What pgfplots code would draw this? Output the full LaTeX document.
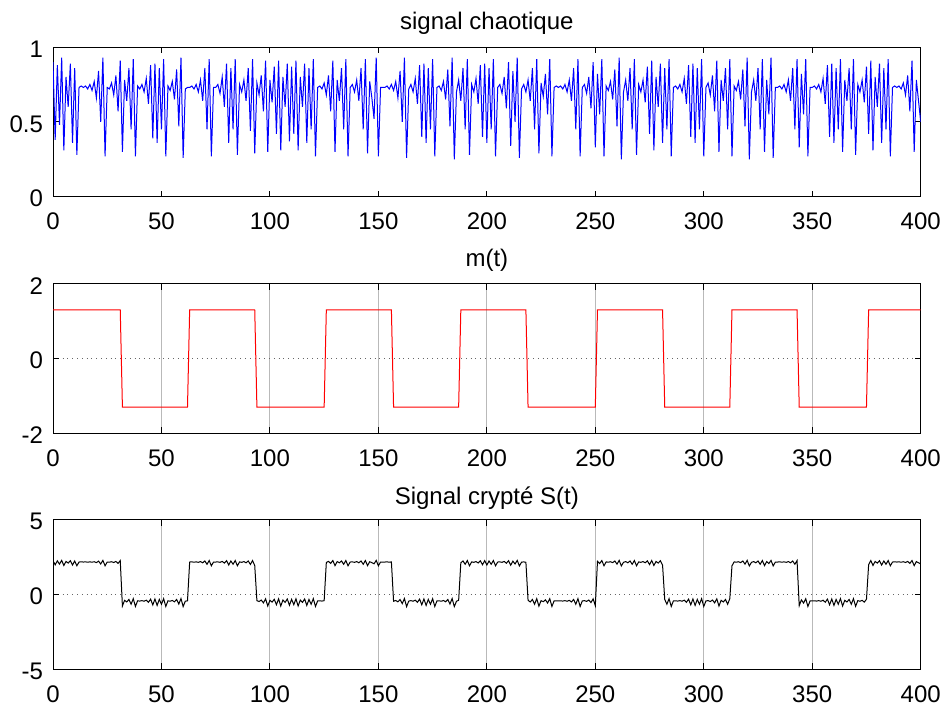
\documentclass[border=0pt]{standalone}
\usepackage{fontspec}
\setmainfont{Liberation Sans}
\usepackage{pgfplots}
\usepackage{pgfplotstable}
\pgfplotsset{compat=1.18}

% t : time, c : signal chaotique, s : signal crypte S(t)
\pgfplotstableread[row sep=\\]{
t c s\\
0 0.90 2.26\\ 1 0.38 1.98\\ 2 0.88 2.25\\ 3 0.48 2.03\\ 4 0.93 2.28\\ 5 0.31 1.94\\ 6 0.80 2.21\\ 7 0.60 2.10\\ 8 0.89 2.26\\ 9 0.36 1.97\\
10 0.86 2.24\\ 11 0.28 1.92\\ 12 0.73 2.17\\ 13 0.74 2.18\\ 14 0.73 2.17\\ 15 0.74 2.18\\ 16 0.72 2.16\\ 17 0.75 2.18\\ 18 0.71 2.16\\ 19 0.77 2.19\\
20 0.66 2.13\\ 21 0.84 2.23\\ 22 0.50 2.04\\ 23 0.93 2.28\\ 24 0.27 1.92\\ 25 0.73 2.17\\ 26 0.72 2.16\\ 27 0.76 2.19\\ 28 0.68 2.14\\ 29 0.81 2.21\\
30 0.57 2.08\\ 31 0.91 2.27\\ 32 0.30 -0.77\\ 33 0.78 -0.39\\ 34 0.64 -0.50\\ 35 0.86 -0.33\\ 36 0.45 -0.65\\ 37 0.92 -0.28\\ 38 0.27 -0.80\\ 39 0.74 -0.42\\
40 0.72 -0.44\\ 41 0.75 -0.41\\ 42 0.70 -0.45\\ 43 0.79 -0.38\\ 44 0.62 -0.52\\ 45 0.88 -0.31\\ 46 0.39 -0.70\\ 47 0.89 -0.30\\ 48 0.36 -0.73\\ 49 0.86 -0.33\\
50 0.45 -0.65\\ 51 0.92 -0.28\\ 52 0.27 -0.80\\ 53 0.74 -0.42\\ 54 0.71 -0.45\\ 55 0.77 -0.40\\ 56 0.65 -0.49\\ 57 0.85 -0.33\\ 58 0.47 -0.64\\ 59 0.93 -0.27\\
60 0.26 -0.81\\ 61 0.72 -0.44\\ 62 0.73 -0.43\\ 63 0.73 2.17\\ 64 0.74 2.18\\ 65 0.72 2.16\\ 66 0.75 2.18\\ 67 0.70 2.15\\ 68 0.78 2.20\\ 69 0.64 2.12\\
70 0.86 2.24\\ 71 0.45 2.02\\ 72 0.92 2.27\\ 73 0.27 1.92\\ 74 0.73 2.17\\ 75 0.73 2.17\\ 76 0.75 2.18\\ 77 0.69 2.15\\ 78 0.80 2.21\\ 79 0.60 2.10\\
80 0.89 2.26\\ 81 0.36 1.97\\ 82 0.86 2.24\\ 83 0.45 2.02\\ 84 0.92 2.27\\ 85 0.28 1.92\\ 86 0.75 2.18\\ 87 0.70 2.15\\ 88 0.78 2.20\\ 89 0.64 2.12\\
90 0.86 2.24\\ 91 0.44 2.01\\ 92 0.92 2.27\\ 93 0.29 1.93\\ 94 0.76 -0.41\\ 95 0.68 -0.47\\ 96 0.81 -0.37\\ 97 0.57 -0.56\\ 98 0.91 -0.29\\ 99 0.30 -0.77\\
100 0.78 -0.39\\ 101 0.63 -0.51\\ 102 0.87 -0.32\\ 103 0.42 -0.68\\ 104 0.91 -0.29\\ 105 0.31 -0.77\\ 106 0.80 -0.37\\ 107 0.60 -0.53\\ 108 0.89 -0.30\\ 109 0.37 -0.72\\
110 0.87 -0.32\\ 111 0.42 -0.68\\ 112 0.91 -0.29\\ 113 0.31 -0.77\\ 114 0.80 -0.37\\ 115 0.60 -0.53\\ 116 0.89 -0.30\\ 117 0.36 -0.73\\ 118 0.86 -0.33\\ 119 0.45 -0.65\\
120 0.92 -0.28\\ 121 0.27 -0.80\\ 122 0.73 -0.43\\ 123 0.74 -0.42\\ 124 0.72 -0.44\\ 125 0.76 -0.41\\ 126 0.68 2.14\\ 127 0.81 2.21\\ 128 0.57 2.08\\ 129 0.91 2.27\\
130 0.30 1.93\\ 131 0.78 2.20\\ 132 0.64 2.12\\ 133 0.86 2.24\\ 134 0.45 2.02\\ 135 0.92 2.27\\ 136 0.27 1.92\\ 137 0.73 2.17\\ 138 0.75 2.18\\ 139 0.70 2.15\\
140 0.78 2.20\\ 141 0.64 2.12\\ 142 0.86 2.24\\ 143 0.45 2.02\\ 144 0.92 2.27\\ 145 0.29 1.93\\ 146 0.77 2.19\\ 147 0.66 2.13\\ 148 0.52 2.05\\ 149 0.93 2.28\\
150 0.27 1.92\\ 151 0.73 2.17\\ 152 0.73 2.17\\ 153 0.73 2.17\\ 154 0.74 2.18\\ 155 0.72 2.16\\ 156 0.75 2.18\\ 157 0.71 -0.45\\ 158 0.77 -0.40\\ 159 0.66 -0.49\\
160 0.84 -0.34\\ 161 0.50 -0.61\\ 162 0.93 -0.27\\ 163 0.26 -0.81\\ 164 0.72 -0.44\\ 165 0.75 -0.41\\ 166 0.70 -0.45\\ 167 0.79 -0.38\\ 168 0.62 -0.52\\ 169 0.88 -0.31\\
170 0.40 -0.69\\ 171 0.89 -0.30\\ 172 0.36 -0.73\\ 173 0.86 -0.33\\ 174 0.45 -0.65\\ 175 0.92 -0.28\\ 176 0.27 -0.80\\ 177 0.73 -0.43\\ 178 0.74 -0.42\\ 179 0.71 -0.45\\
180 0.77 -0.40\\ 181 0.65 -0.49\\ 182 0.85 -0.33\\ 183 0.47 -0.64\\ 184 0.93 -0.27\\ 185 0.25 -0.81\\ 186 0.70 -0.45\\ 187 0.78 -0.39\\ 188 0.64 2.12\\ 189 0.86 2.24\\
190 0.45 2.02\\ 191 0.92 2.27\\ 192 0.28 1.92\\ 193 0.75 2.18\\ 194 0.70 2.15\\ 195 0.79 2.20\\ 196 0.62 2.11\\ 197 0.88 2.25\\ 198 0.40 1.99\\ 199 0.89 2.26\\
200 0.36 1.97\\ 201 0.86 2.24\\ 202 0.45 2.02\\ 203 0.92 2.27\\ 204 0.27 1.92\\ 205 0.73 2.17\\ 206 0.75 2.18\\ 207 0.69 2.15\\ 208 0.80 2.21\\ 209 0.59 2.09\\
210 0.90 2.26\\ 211 0.34 1.96\\ 212 0.84 2.23\\ 213 0.50 2.04\\ 214 0.93 2.28\\ 215 0.26 1.91\\ 216 0.72 2.16\\ 217 0.75 2.18\\ 218 0.70 2.15\\ 219 0.78 -0.39\\
220 0.64 -0.50\\ 221 0.86 -0.33\\ 222 0.45 -0.65\\ 223 0.92 -0.28\\ 224 0.29 -0.78\\ 225 0.76 -0.41\\ 226 0.67 -0.48\\ 227 0.82 -0.36\\ 228 0.55 -0.57\\ 229 0.92 -0.28\\
230 0.27 -0.80\\ 231 0.73 -0.43\\ 232 0.74 -0.42\\ 233 0.73 -0.43\\ 234 0.74 -0.42\\ 235 0.72 -0.44\\ 236 0.75 -0.41\\ 237 0.70 -0.45\\ 238 0.78 -0.39\\ 239 0.64 -0.50\\
240 0.86 -0.33\\ 241 0.45 -0.65\\ 242 0.92 -0.28\\ 243 0.27 -0.80\\ 244 0.73 -0.43\\ 245 0.75 -0.41\\ 246 0.69 -0.46\\ 247 0.80 -0.37\\ 248 0.59 -0.54\\ 249 0.90 -0.29\\
250 0.33 -0.75\\ 251 0.82 2.22\\ 252 0.55 2.07\\ 253 0.92 2.27\\ 254 0.27 1.92\\ 255 0.74 2.18\\ 256 0.71 2.16\\ 257 0.77 2.19\\ 258 0.65 2.13\\ 259 0.85 2.24\\
260 0.47 2.03\\ 261 0.93 2.28\\ 262 0.25 1.91\\ 263 0.70 2.15\\ 264 0.78 2.20\\ 265 0.64 2.12\\ 266 0.86 2.24\\ 267 0.45 2.02\\ 268 0.92 2.27\\ 269 0.28 1.92\\
270 0.75 2.18\\ 271 0.70 2.15\\ 272 0.78 2.20\\ 273 0.63 2.12\\ 274 0.87 2.25\\ 275 0.42 2.00\\ 276 0.91 2.27\\ 277 0.31 1.94\\ 278 0.80 2.21\\ 279 0.60 2.10\\
280 0.89 2.26\\ 281 0.36 1.97\\ 282 0.86 -0.33\\ 283 0.45 -0.65\\ 284 0.92 -0.28\\ 285 0.27 -0.80\\ 286 0.73 -0.43\\ 287 0.74 -0.42\\ 288 0.72 -0.44\\ 289 0.75 -0.41\\
290 0.70 -0.45\\ 291 0.79 -0.38\\ 292 0.62 -0.52\\ 293 0.88 -0.31\\ 294 0.40 -0.69\\ 295 0.89 -0.30\\ 296 0.36 -0.73\\ 297 0.86 -0.33\\ 298 0.45 -0.65\\ 299 0.92 -0.28\\
300 0.27 -0.80\\ 301 0.73 -0.43\\ 302 0.76 -0.41\\ 303 0.68 -0.47\\ 304 0.81 -0.37\\ 305 0.57 -0.56\\ 306 0.91 -0.29\\ 307 0.30 -0.77\\ 308 0.78 -0.39\\ 309 0.64 -0.50\\
310 0.86 -0.33\\ 311 0.45 -0.65\\ 312 0.92 -0.28\\ 313 0.27 1.92\\ 314 0.74 2.18\\ 315 0.71 2.16\\ 316 0.77 2.19\\ 317 0.65 2.13\\ 318 0.85 2.24\\ 319 0.47 2.03\\
320 0.93 2.28\\ 321 0.25 1.91\\ 322 0.70 2.15\\ 323 0.78 2.20\\ 324 0.64 2.12\\ 325 0.86 2.24\\ 326 0.45 2.02\\ 327 0.92 2.27\\ 328 0.30 1.93\\ 329 0.78 2.20\\
330 0.55 2.07\\ 331 0.93 2.28\\ 332 0.26 1.91\\ 333 0.73 2.17\\ 334 0.73 2.17\\ 335 0.74 2.18\\ 336 0.72 2.16\\ 337 0.75 2.18\\ 338 0.70 2.15\\ 339 0.78 2.20\\
340 0.64 2.12\\ 341 0.86 2.24\\ 342 0.45 2.02\\ 343 0.92 2.27\\ 344 0.33 -0.75\\ 345 0.82 -0.36\\ 346 0.55 -0.57\\ 347 0.92 -0.28\\ 348 0.27 -0.80\\ 349 0.73 -0.43\\
350 0.73 -0.43\\ 351 0.74 -0.42\\ 352 0.72 -0.44\\ 353 0.75 -0.41\\ 354 0.70 -0.45\\ 355 0.79 -0.38\\ 356 0.62 -0.52\\ 357 0.88 -0.31\\ 358 0.40 -0.69\\ 359 0.89 -0.30\\
360 0.36 -0.73\\ 361 0.86 -0.33\\ 362 0.45 -0.65\\ 363 0.92 -0.28\\ 364 0.30 -0.77\\ 365 0.78 -0.39\\ 366 0.64 -0.50\\ 367 0.86 -0.33\\ 368 0.45 -0.65\\ 369 0.92 -0.28\\
370 0.28 -0.79\\ 371 0.75 -0.41\\ 372 0.70 -0.45\\ 373 0.78 -0.39\\ 374 0.63 -0.51\\ 375 0.87 -0.32\\ 376 0.42 2.00\\ 377 0.91 2.27\\ 378 0.31 1.94\\ 379 0.80 2.21\\
380 0.60 2.10\\ 381 0.89 2.26\\ 382 0.36 1.97\\ 383 0.86 2.24\\ 384 0.45 2.02\\ 385 0.92 2.27\\ 386 0.27 1.92\\ 387 0.73 2.17\\ 388 0.74 2.18\\ 389 0.73 2.17\\
390 0.74 2.18\\ 391 0.72 2.16\\ 392 0.76 2.19\\ 393 0.68 2.14\\ 394 0.81 2.21\\ 395 0.57 2.08\\ 396 0.91 2.27\\ 397 0.30 1.93\\ 398 0.78 2.20\\ 399 0.64 2.12\\
400 0.50 2.04\\
}\sig

\pgfplotsset{
  matlab/.style={
    width=433.85pt, height=74.8pt, scale only axis,
    xmin=0, xmax=400, xtick={0,50,...,400},
    tick align=inside, major tick length=3pt,
    axis line style={black, line width=0.5pt},
    every tick/.style={black, line width=0.5pt},
    tick label style={font=\fontsize{12}{14}\selectfont},
    xticklabel style={yshift=-4.5pt},
    yticklabel style={xshift=-1.5pt, yshift=-1pt},
    /pgf/number format/assume math mode=true,
    every axis title shift=0pt,
    title style={font=\fontsize{12}{14}\selectfont, anchor=base, at={(0.5,1)}},
    x grid style={gray!55, line width=0.5pt},
    y grid style={black!60, dotted, line width=0.5pt},
  }
}

\begin{document}
\begin{tikzpicture}
\path[use as bounding box] (0,0) rectangle (473pt,352.5pt);

\begin{axis}[matlab, at={(26.5pt,254.15pt)}, anchor=south west,
  ymin=0, ymax=1, ytick={0,0.5,1},
  title={signal chaotique}, title style={yshift=9pt}]
\addplot[blue, line width=0.5pt] table[x=t, y=c]{\sig};
\end{axis}

\begin{axis}[matlab, at={(26.5pt,135.85pt)}, anchor=south west,
  ymin=-2, ymax=2, ytick={-2,0,2}, grid=major,
  title={m(t)}, title style={yshift=8.5pt}]
\addplot[red, line width=0.5pt] coordinates {
  (0,1.3) (31,1.3) (32,-1.3) (62,-1.3) (63,1.3) (93,1.3) (94,-1.3)
  (125,-1.3) (126,1.3) (156,1.3) (157,-1.3) (187,-1.3) (188,1.3)
  (218,1.3) (219,-1.3) (250,-1.3) (251,1.3) (281,1.3) (282,-1.3)
  (312,-1.3) (313,1.3) (343,1.3) (344,-1.3) (375,-1.3) (376,1.3) (400,1.3)
};
\end{axis}

\begin{axis}[matlab, at={(26.5pt,17.85pt)}, anchor=south west,
  ymin=-5, ymax=5, ytick={-5,0,5}, grid=major,
  title={Signal crypté S(t)}, title style={yshift=7.5pt}]
\addplot[black, line width=0.5pt] table[x=t, y=s]{\sig};
\end{axis}
\end{tikzpicture}
\end{document}
